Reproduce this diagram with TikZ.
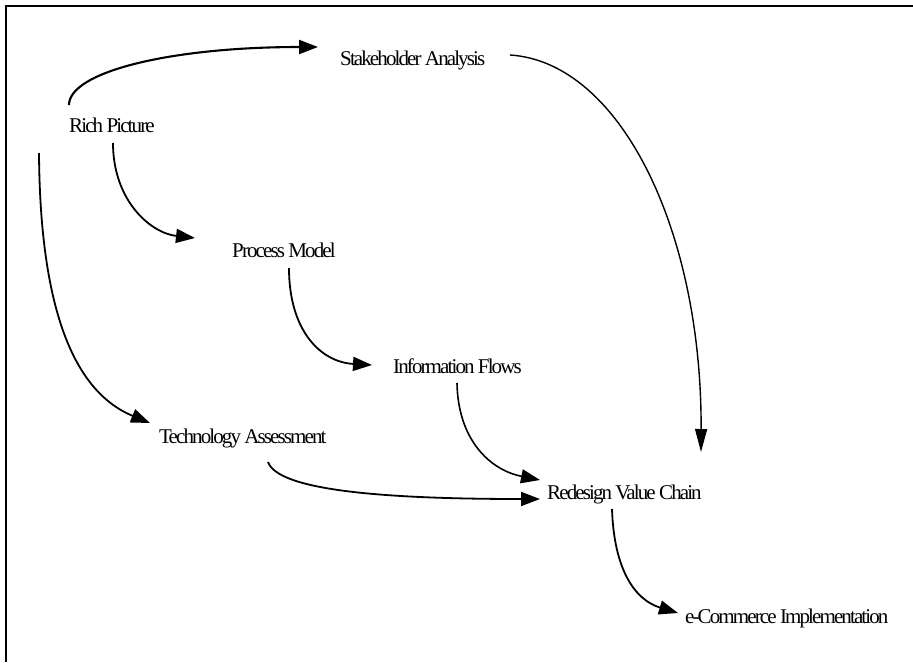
\documentclass[tikz,border=0pt]{standalone}
\usepackage{fontspec}
\setmainfont{Liberation Serif}[LetterSpace=-9]
\usetikzlibrary{arrows.meta}
\tikzset{
  label/.style={anchor=base west, inner sep=0pt, font=\fontsize{21}{25}\selectfont},
  flow/.style={line width=1.8pt, -{Triangle[length=19pt,width=14pt]}},
  longflow/.style={line width=1.4pt, -{Triangle[length=23pt,width=12pt]}},
}
\begin{document}
\begin{tikzpicture}[x=1pt,y=-1pt]
  \useasboundingbox (0,0) rectangle (913,662);
  % frame (top and left edges)
  \draw[line width=2pt] (6,662) -- (6,6) -- (913,6);

  % activities
  \node[label] (rich)  at (69,132)  {Rich Picture};
  \node[label] (stake) at (340,65)  {Stakeholder Analysis};
  \node[label] (proc)  at (232,257) {Process Model};
  \node[label] (info)  at (393,373) {Information Flows};
  \node[label] (tech)  at (159,443) {Technology Assessment};
  \node[label] (redes) at (547,499) {Redesign Value Chain};
  \node[label] (ecom)  at (685,623) {e-Commerce Implementation};

  % dependencies
  \draw[flow, line width=2.1pt] ([shift={(0,-27)}]rich.base west)
     .. controls (69,72) and (170,47) .. ([shift={(-22,-18)}]stake.base west);
  \draw[flow] ([shift={(44,11)}]rich.base west)
     .. controls (113,200) and (150,233) .. ([shift={(-37,-19)}]proc.base west);
  \draw[flow] ([shift={(-30,21)}]rich.base west)
     .. controls (40,300) and (70,390) .. ([shift={(-9,-20)}]tech.base west);
  \draw[longflow] ([shift={(170,-10)}]stake.base west)
     .. controls (620,62) and (702,230) .. ([shift={(154,-47)}]redes.base west);
  \draw[flow] ([shift={(57,11)}]proc.base west)
     .. controls (289,330) and (320,362) .. ([shift={(-21,-8)}]info.base west);
  \draw[flow, line width=1.6pt] ([shift={(64,10)}]info.base west)
     .. controls (458,440) and (490,470) .. ([shift={(-7,-19)}]redes.base west);
  \draw[flow] ([shift={(109,19)}]tech.base west)
     .. controls (278,490) and (380,499) .. ([shift={(-7,0)}]redes.base west);
  \draw[flow] ([shift={(65,10)}]redes.base west)
     .. controls (614,570) and (635,600) .. ([shift={(-7,-10)}]ecom.base west);
\end{tikzpicture}
\end{document}
